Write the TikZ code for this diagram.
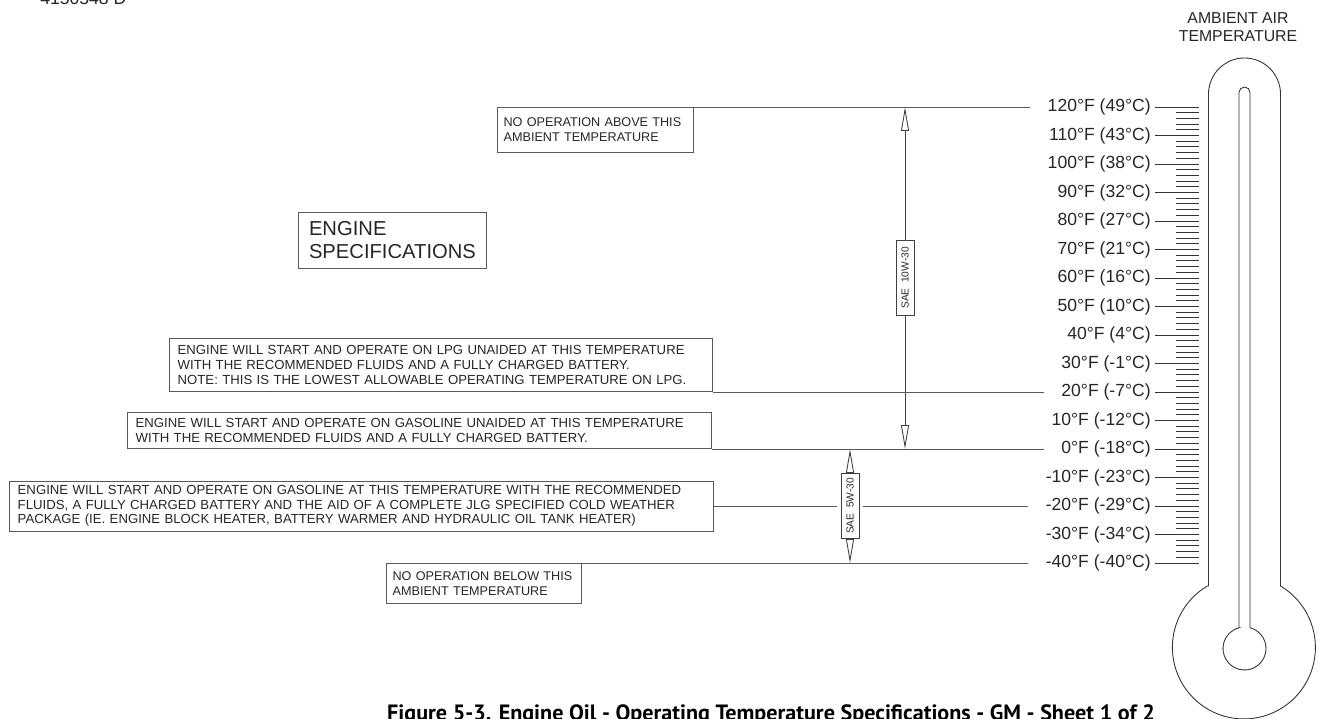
\documentclass[tikz,border=0pt]{standalone}
\usepackage{fontspec}
\setmainfont{Liberation Sans}
\newfontfamily\capfont{PT Sans}
\usetikzlibrary{arrows.meta,positioning}
\tikzset{
  note/.style={draw=black!65, line width=0.5pt, align=left, inner xsep=0.16cm, inner ysep=0pt,
    text=black!85, font=\fontsize{7.5}{8.4}\selectfont},
  small note/.style={note, inner xsep=0.12cm, font=\fontsize{7.2}{8.4}\selectfont},
  lead/.style={draw=black!65, line width=0.5pt},
  tube/.style={draw=black!80, line width=0.5pt},
  temp/.style={font=\fontsize{10}{12}\selectfont, text=black!85, inner sep=0pt, anchor=east},
  dim/.style={<->, draw=black!75, line width=0.5pt},
  sae/.style={draw=black!75, fill=white, rotate=90, inner sep=0pt, text=black!85,
    font=\fontsize{5.8}{7}\selectfont, minimum width=1.3cm, minimum height=0.36cm},
}

\begin{document}
\begin{tikzpicture}[x=0.02cm, y=-0.02cm, >={Triangle[open, length=0.48cm, width=0.16cm]}]
  \useasboundingbox (0,0) rectangle (1319,719);

  % drawing number and scale heading
  \node[font=\fontsize{10}{12}\selectfont, text=black!85, anchor=base west, inner sep=0pt] (dwg) at (40,5) {4150548 D};
  \node[font=\fontsize{9}{10.5}\selectfont, align=center, text=black!85] (head) at (1238,27) {AMBIENT AIR\\TEMPERATURE};

  % thermometer outline and bore
  \draw[tube] (1208.5,586) -- (1208.5,94) arc[start angle=180, end angle=360, radius=36]
    -- (1280.5,586) arc[start angle=-59.2, end angle=239.2, radius=71.5] -- cycle;
  \draw[tube] (1239,627.7) -- (1239,92.5) arc[start angle=180, end angle=360, radius=5.5]
    -- (1250,627.7) arc[start angle=-75.2, end angle=255.2, radius=21.5] -- cycle;

  % minor ticks every 2 F
  \foreach \k in {0,...,80}
    \draw[tube] (1176,{107+\k*5.7}) -- (1199,{107+\k*5.7});

  % temperature labels with major ticks
  \foreach \tf/\tc [count=\i from 0] in {120/49,110/43,100/38,90/32,80/27,70/21,60/16,50/10,40/4,
      30/-1,20/-7,10/-12,0/-18,-10/-23,-20/-29,-30/-34,-40/-40} {
    \node[temp] (t\i) at (1151,{107+\i*28.5}) {\tf{}°F (\tc{}°C)};
    \draw[tube] ([xshift=0.08cm]t\i.east) -- (1199,{107+\i*28.5});
  }

  % notes
  \node[small note, anchor=north east, text width=3.68cm, minimum height=0.9cm] (above) at (694,107)
    {NO OPERATION ABOVE THIS\\AMBIENT TEMPERATURE};
  \node[note, inner xsep=0.22cm, text width=3.32cm, minimum height=1.12cm,
    font=\fontsize{11.5}{13.6}\selectfont] (specs) at (392,240) {ENGINE\\SPECIFICATIONS};
  \node[note, anchor=south east, text width=10.54cm, minimum height=1.06cm] (lpg) at (713,392)
    {ENGINE WILL START AND OPERATE ON LPG UNAIDED AT THIS TEMPERATURE\\
     WITH THE RECOMMENDED FLUIDS AND A FULLY CHARGED BATTERY.\\
     NOTE: THIS IS THE LOWEST ALLOWABLE OPERATING TEMPERATURE ON LPG.};
  \node[note, anchor=south east, text width=11.36cm, minimum height=0.72cm] (gas) at (712,449)
    {ENGINE WILL START AND OPERATE ON GASOLINE UNAIDED AT THIS TEMPERATURE\\
     WITH THE RECOMMENDED FLUIDS AND A FULLY CHARGED BATTERY.};
  \node[note, anchor=east, text width=13.76cm, minimum height=1.0cm] (cold) at (714,506)
    {ENGINE WILL START AND OPERATE ON GASOLINE AT THIS TEMPERATURE WITH THE RECOMMENDED\\
     FLUIDS, A FULLY CHARGED BATTERY AND THE AID OF A COMPLETE JLG SPECIFIED COLD WEATHER\\
     PACKAGE (IE. ENGINE BLOCK HEATER, BATTERY WARMER AND HYDRAULIC OIL TANK HEATER)};
  \node[small note, anchor=north east, text width=3.66cm, minimum height=0.8cm] (below) at (582,563)
    {NO OPERATION BELOW THIS\\AMBIENT TEMPERATURE};

  % oil grade ranges
  \coordinate (hi10) at (905,107);
  \coordinate (lo10) at (905,449);
  \coordinate (hi5) at (850,449);
  \coordinate (lo5) at (850,563);
  \draw[dim] (hi10) -- node[sae, minimum width=1.5cm] (w10) {SAE\ \ 10W-30} (lo10);
  \draw[dim] (hi5) -- node[sae] (w5) {SAE\ \ 5W-30} (lo5);

  % leader lines to the scale
  \draw[lead] (above.north east) -- ([xshift=-0.34cm]t0.west);
  \draw[lead] (lpg.south east) -- ([xshift=-0.34cm]t10.west);
  \draw[lead] (gas.south east) -- ([xshift=-0.34cm]t12.west);
  \draw[lead] (cold.east) -- ([xshift=-0.08cm]w5.north);
  \draw[lead] ([xshift=0.08cm]w5.south) -- ([xshift=-0.34cm]t14.west);
  \draw[lead] (below.north east) -- ([xshift=-0.34cm]t16.west);

  % caption
  \node[font=\capfont\bfseries\fontsize{12.6}{15}\selectfont, anchor=base, inner sep=0pt] (cap) at (771,720)
    {Figure 5-3. Engine Oil - Operating Temperature Specifications - GM - Sheet 1 of 2};
\end{tikzpicture}
\end{document}
